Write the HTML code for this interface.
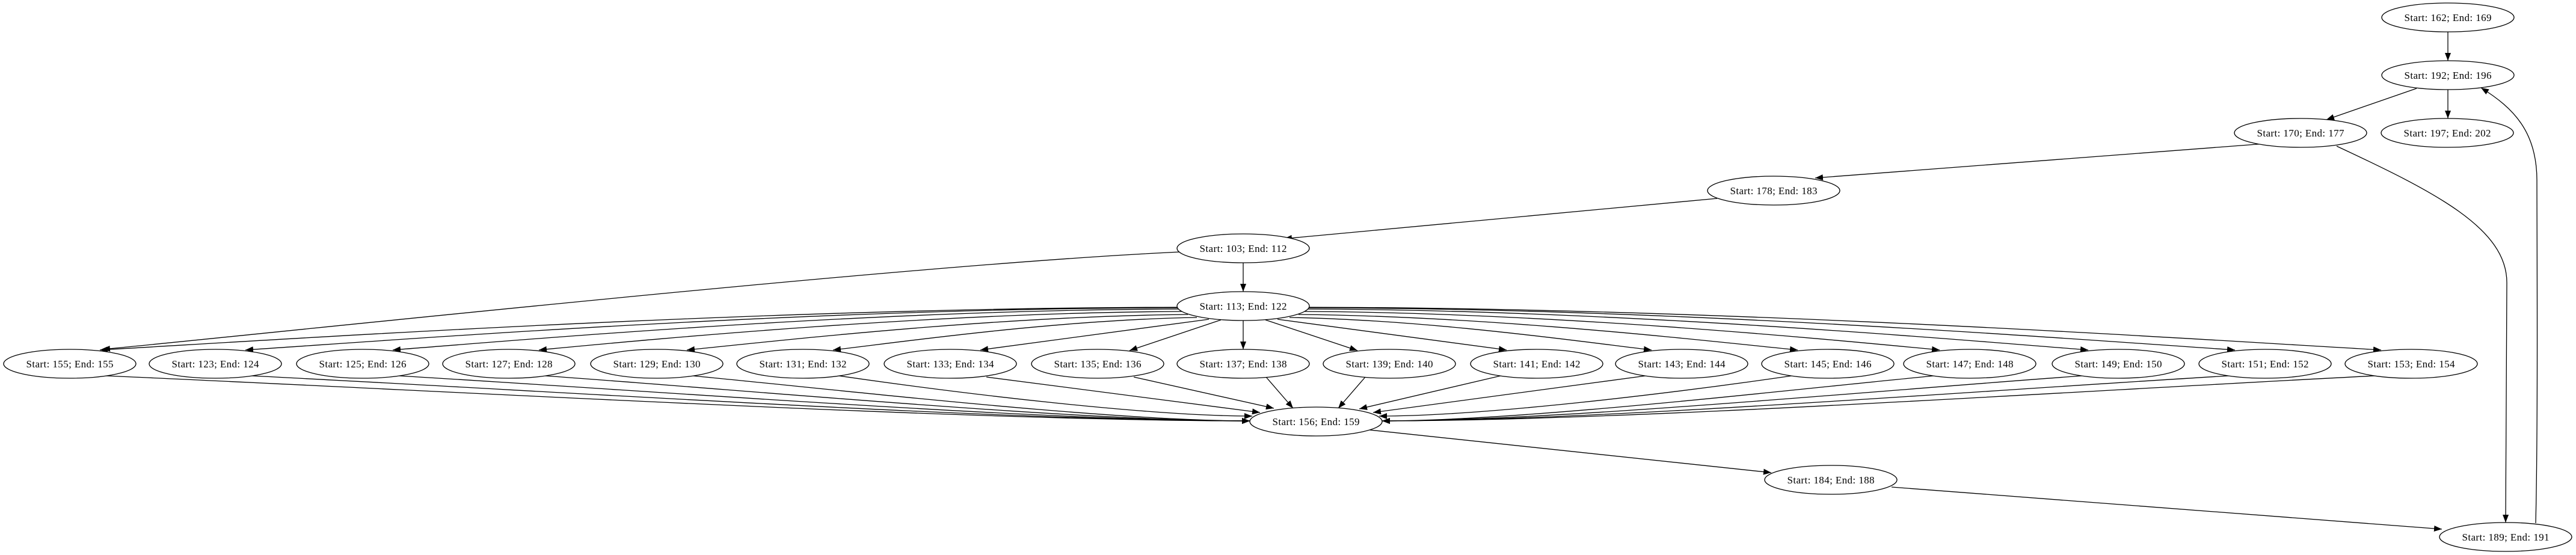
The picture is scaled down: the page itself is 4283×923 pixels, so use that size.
<!DOCTYPE html>
<html><head><meta charset="utf-8"><style>
html,body{margin:0;padding:0;background:#fff;}
svg{display:block;}
text{font-family:"Liberation Serif",serif;font-size:17px;fill:#000;}
</style></head><body>
<svg width="4283" height="923" viewBox="0 0 4283 923" xmlns="http://www.w3.org/2000/svg">
<defs>
<marker id="a" markerUnits="userSpaceOnUse" markerWidth="14" markerHeight="10" refX="13" refY="5" orient="auto">
<path d="M0,0 L13,5 L0,10 z" fill="#000"/>
</marker>
</defs>
<g fill="none" stroke="#000" stroke-width="1.3" marker-end="url(#a)">
<path d="M4070,53 L4070,101"/>
<path d="M4070,149 L4070,197"/>
<path d="M4018,147 L3868,199"/>
<path d="M3765,239 L3018,296"/>
<path d="M2855,330 L2135,397"/>
<path d="M1962,419 C1500,440 400,560 170,581"/>
<path d="M2067,437 L2067,485"/>
<path d="M2277,715 L2945,786"/>
<path d="M3145,810 L4060,880"/>
<path d="M3885,243 C4050,320 4168,380 4168,470 L4166,869"/>
<path d="M4216,870 C4220,700 4218,400 4218,300 C4218,220 4180,180 4125,146"/>
<path d="M1960,511 C1242,512 435,567 166,582"/>
<path d="M1960,512 C1339,512 641,567 408,582"/>
<path d="M1962,514 C1438,515 849,567 653,582"/>
<path d="M1965,518 C1537,520 1056,567 896,582"/>
<path d="M1975,523 C1642,526 1267,570 1142,582"/>
<path d="M1990,528 C1748,532 1476,572 1385,582"/>
<path d="M2010,531 L1630,582"/>
<path d="M2030,532 L1878,583"/>
<path d="M2067,533 L2067,581"/>
<path d="M2104,532 L2257,583"/>
<path d="M2124,531 L2505,582"/>
<path d="M2144,528 C2385,532 2656,572 2746,582"/>
<path d="M2159,523 C2491,526 2864,570 2989,582"/>
<path d="M2169,518 C2591,520 3067,567 3225,582"/>
<path d="M2172,514 C2692,515 3277,567 3472,582"/>
<path d="M2174,512 C2791,512 3485,567 3716,582"/>
<path d="M2174,511 C2888,512 3691,567 3959,582"/>
<path d="M176,625 C747,650 1602,700 2078,700"/>
<path d="M418,625 C916,650 1663,700 2078,700"/>
<path d="M663,625 C1088,650 1724,700 2078,700"/>
<path d="M906,625 C1258,650 1785,700 2078,700"/>
<path d="M1152,625 C1430,652 1847,700 2078,700"/>
<path d="M1395,625 C1601,655 1910,692 2082,692"/>
<path d="M1640,627 L2095,686"/>
<path d="M1885,627 L2118,679"/>
<path d="M2105,627 L2150,679"/>
<path d="M2270,627 L2225,679"/>
<path d="M2495,625 L2260,680"/>
<path d="M2736,625 L2283,686"/>
<path d="M2979,625 C2773,655 2465,692 2293,692"/>
<path d="M3215,625 C2940,652 2527,700 2298,700"/>
<path d="M3462,625 C3113,650 2589,700 2298,700"/>
<path d="M3706,625 C3284,650 2650,700 2298,700"/>
<path d="M3949,625 C3454,650 2711,700 2298,700"/>
</g>
<g fill="#fff" stroke="#000" stroke-width="1.3">
<ellipse cx="4070" cy="29" rx="110" ry="24"/>
<ellipse cx="4070" cy="125" rx="110" ry="24"/>
<ellipse cx="3825" cy="221" rx="110" ry="24"/>
<ellipse cx="4069" cy="221" rx="110" ry="24"/>
<ellipse cx="2949" cy="317" rx="110" ry="24"/>
<ellipse cx="2067" cy="413" rx="110" ry="24"/>
<ellipse cx="2067" cy="509" rx="110" ry="24"/>
<ellipse cx="116" cy="605" rx="110" ry="24"/>
<ellipse cx="358" cy="605" rx="110" ry="24"/>
<ellipse cx="603" cy="605" rx="110" ry="24"/>
<ellipse cx="846" cy="605" rx="110" ry="24"/>
<ellipse cx="1092" cy="605" rx="110" ry="24"/>
<ellipse cx="1335" cy="605" rx="110" ry="24"/>
<ellipse cx="1580" cy="605" rx="110" ry="24"/>
<ellipse cx="1825" cy="605" rx="110" ry="24"/>
<ellipse cx="2067" cy="605" rx="110" ry="24"/>
<ellipse cx="2310" cy="605" rx="110" ry="24"/>
<ellipse cx="2555" cy="605" rx="110" ry="24"/>
<ellipse cx="2796" cy="605" rx="110" ry="24"/>
<ellipse cx="3039" cy="605" rx="110" ry="24"/>
<ellipse cx="3275" cy="605" rx="110" ry="24"/>
<ellipse cx="3522" cy="605" rx="110" ry="24"/>
<ellipse cx="3766" cy="605" rx="110" ry="24"/>
<ellipse cx="4009" cy="605" rx="110" ry="24"/>
<ellipse cx="2188" cy="701" rx="110" ry="24"/>
<ellipse cx="3044" cy="798" rx="110" ry="24"/>
<ellipse cx="4166" cy="893" rx="110" ry="24"/>
</g>
<g text-anchor="middle">
<text x="4070" y="35" textLength="145">Start: 162; End: 169</text>
<text x="4070" y="131" textLength="145">Start: 192; End: 196</text>
<text x="3825" y="227" textLength="145">Start: 170; End: 177</text>
<text x="4069" y="227" textLength="145">Start: 197; End: 202</text>
<text x="2949" y="323" textLength="145">Start: 178; End: 183</text>
<text x="2067" y="419" textLength="145">Start: 103; End: 112</text>
<text x="2067" y="515" textLength="145">Start: 113; End: 122</text>
<text x="116" y="611" textLength="145">Start: 155; End: 155</text>
<text x="358" y="611" textLength="145">Start: 123; End: 124</text>
<text x="603" y="611" textLength="145">Start: 125; End: 126</text>
<text x="846" y="611" textLength="145">Start: 127; End: 128</text>
<text x="1092" y="611" textLength="145">Start: 129; End: 130</text>
<text x="1335" y="611" textLength="145">Start: 131; End: 132</text>
<text x="1580" y="611" textLength="145">Start: 133; End: 134</text>
<text x="1825" y="611" textLength="145">Start: 135; End: 136</text>
<text x="2067" y="611" textLength="145">Start: 137; End: 138</text>
<text x="2310" y="611" textLength="145">Start: 139; End: 140</text>
<text x="2555" y="611" textLength="145">Start: 141; End: 142</text>
<text x="2796" y="611" textLength="145">Start: 143; End: 144</text>
<text x="3039" y="611" textLength="145">Start: 145; End: 146</text>
<text x="3275" y="611" textLength="145">Start: 147; End: 148</text>
<text x="3522" y="611" textLength="145">Start: 149; End: 150</text>
<text x="3766" y="611" textLength="145">Start: 151; End: 152</text>
<text x="4009" y="611" textLength="145">Start: 153; End: 154</text>
<text x="2188" y="707" textLength="145">Start: 156; End: 159</text>
<text x="3044" y="804" textLength="145">Start: 184; End: 188</text>
<text x="4166" y="899" textLength="145">Start: 189; End: 191</text>
</g>
</svg>
</body></html>
